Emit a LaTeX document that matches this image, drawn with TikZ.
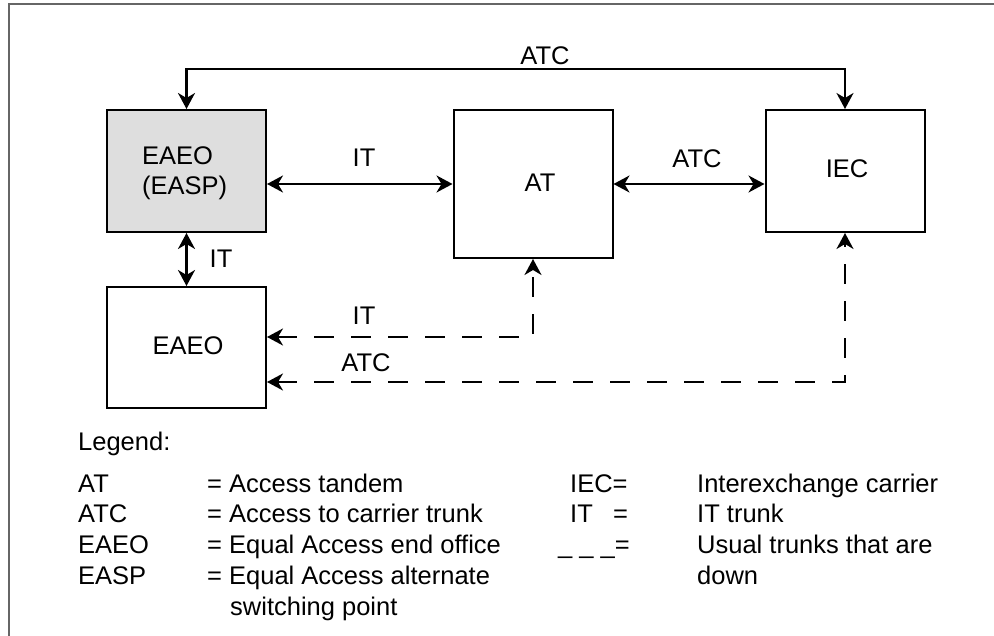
\documentclass[tikz,border=0pt]{standalone}
\usepackage{fontspec}
\setmainfont{Liberation Sans}
\usetikzlibrary{arrows.meta}
\begin{document}
\begin{tikzpicture}[x=1pt,y=-1pt,
  font=\fontsize{25.5}{30}\selectfont,
  box/.style={draw=black, line width=2pt, inner sep=0pt, minimum width=159pt},
  tip/.tip={Stealth[length=16pt,width=17pt,inset=5pt]},
  conn/.style={line width=2.2pt, {tip}-{tip}},
  dconn/.style={conn, dash pattern=on 20pt off 17pt},
  lbl/.style={anchor=base, inner sep=0pt},
  lgd/.style={anchor=base west, inner sep=0pt},
  frame/.style={draw=black!60, line width=2pt}
]
\useasboundingbox (0,0) rectangle (994,636);
% frame
\draw[frame] (9,636) -- (9,4) -- (994,4);

% boxes
\node[box, fill=black!13, minimum height=122pt] (easp) at (186.5,171) {};
\node[box, minimum height=148pt] (at) at (533,184) {};
\node[box, minimum height=122pt] (iec) at (845,171) {};
\node[box, minimum height=121pt] (eaeo) at (186.5,347.5) {};

% box texts
\node[lgd] (t1) at (142,165) {EAEO};
\node[lgd] (t2) at (142,195) {(EASP)};
\node[lbl] (t3) at (540,192) {AT};
\node[lbl] (t4) at (847,178) {IEC};
\node[lbl] (t5) at (188,355) {EAEO};

% connectors
\coordinate (topy) at (515,69);
\draw[conn] (easp.north) |- (topy) -| (iec.north);
\node[lbl] (l1) at (545,65) {ATC};

\draw[conn] (easp.east |- at.west) -- (at.west);
\node[lbl] (l2) at (364,167) {IT};

\draw[conn] (at.east) -- (iec.west |- at.east);
\node[lbl] (l3) at (697,168) {ATC};

\draw[conn] (easp.south) -- (eaeo.north);
\node[lbl] (l4) at (221,268) {IT};

\coordinate (itc) at (535,337);
\draw[dconn] (eaeo.east |- itc) -| (at.south);
\node[lbl] (l5) at (364,325) {IT};

\coordinate (atcc) at (849,382);
\draw[dconn] (eaeo.east |- atcc) -| (iec.south);
\node[lbl] (l6) at (366,372) {ATC};

% legend
\node[lgd] (lg) at (78,450) {Legend:};
\node[lgd] (k1) at (78,492) {AT};
\node[lgd] (k2) at (78,522) {ATC};
\node[lgd] (k3) at (78,553) {EAEO};
\node[lgd] (k4) at (78,584) {EASP};
\node[lgd] (d1) at (207,492) {= Access tandem};
\node[lgd] (d2) at (207,522) {= Access to carrier trunk};
\node[lgd] (d3) at (207,553) {= Equal Access end office};
\node[lgd] (d4) at (207,584) {= Equal Access alternate};
\node[lgd] (d5) at (230,615) {switching point};

\node[lgd] (k5) at (570,492) {IEC=};
\node[lgd] (k6) at (570,522) {IT};
\node[lgd] (k6e) at (613,522) {=};
\node[lgd] (k7) at (558,553) {\_ \_ \_=};
\node[lgd] (d6) at (697,492) {Interexchange carrier};
\node[lgd] (d7) at (697,522) {IT trunk};
\node[lgd] (d8) at (697,553) {Usual trunks that are};
\node[lgd] (d9) at (697,584) {down};
\end{tikzpicture}
\end{document}
